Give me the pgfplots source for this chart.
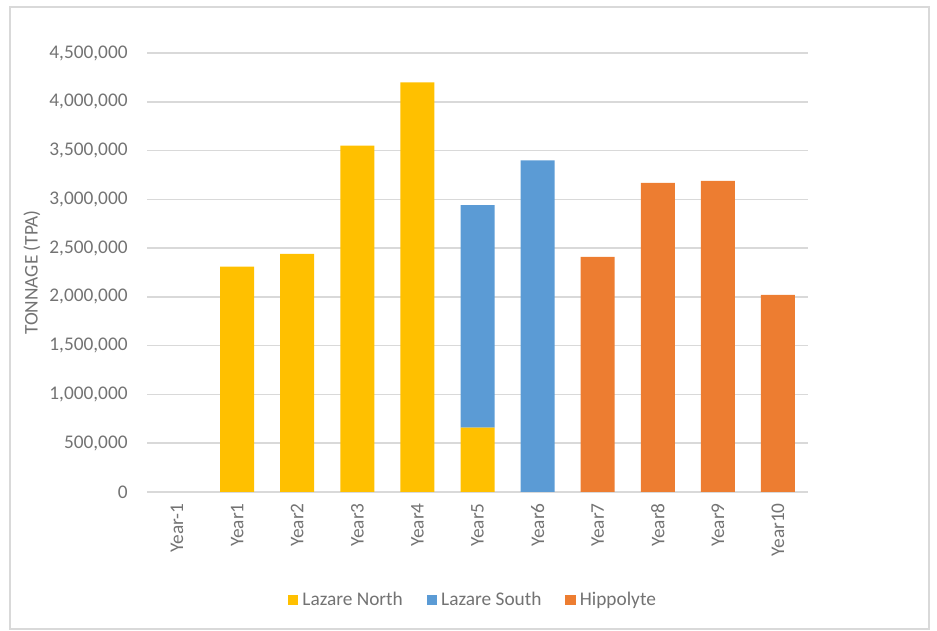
\documentclass[border=0pt]{standalone}
\usepackage{pgfplots}
\pgfplotsset{compat=1.18}
\usepackage{fontspec}
\setmainfont{Carlito}

\definecolor{lnorth}{HTML}{FFC000}
\definecolor{lsouth}{HTML}{5B9BD5}
\definecolor{hippo}{HTML}{ED7D31}
\definecolor{gridgray}{HTML}{D9D9D9}
\definecolor{textgray}{HTML}{737373}

\begin{document}
\begin{tikzpicture}
\useasboundingbox (0,0) rectangle (468.5bp,315.5bp);
% outer chart frame
\draw[gridgray, line width=0.8bp] (5bp,1bp) rectangle (464.5bp,312bp);
\begin{axis}[
  at={(73.5bp,69.5bp)}, anchor=south west,
  scale only axis,
  width=330.5bp, height=219.5bp,
  ybar stacked,
  bar width=17bp,
  xmin=-0.5, xmax=10.5,
  ymin=0, ymax=4500000,
  xtick={0,...,10},
  xticklabels={Year-1,Year1,Year2,Year3,Year4,Year5,Year6,Year7,Year8,Year9,Year10},
  ytick={0,500000,...,4500000},
  scaled y ticks=false,
  ymajorgrids,
  grid style={gridgray, line width=0.8bp},
  axis line style={draw=none},
  major tick length=0pt,
  tick label style={font=\fontsize{9.7}{11}\selectfont, text=textgray, inner sep=0pt},
  /pgf/number format/assume math mode=true,
  yticklabel style={/pgf/number format/.cd, fixed, 1000 sep={,}},
  yticklabel shift=9.5bp,
  xticklabel style={rotate=90, anchor=east},
  xticklabel shift=5.5bp,
  ylabel={TONNAGE (TPA)},
  ylabel style={at={(axis description cs:-0.174,0.5)}, anchor=center,
    font=\fontsize{9.7}{11}\selectfont, text=textgray, inner sep=0pt},
  legend columns=-1,
  legend style={draw=none, at={(axis description cs:0.4947,-0.246)}, anchor=center,
    font=\fontsize{9.7}{11}\selectfont, text=textgray,
    /tikz/every even column/.append style={column sep=10bp}},
  legend image code/.code={\fill[#1] (0bp,-2.6bp) rectangle (5.2bp,2.6bp);},
]
\addplot[fill=lnorth, draw=none] coordinates {
  (0,0) (1,2310000) (2,2440000) (3,3550000) (4,4200000) (5,660000)
  (6,0) (7,0) (8,0) (9,0) (10,0)};
\addplot[fill=lsouth, draw=none] coordinates {
  (0,0) (1,0) (2,0) (3,0) (4,0) (5,2280000)
  (6,3400000) (7,0) (8,0) (9,0) (10,0)};
\addplot[fill=hippo, draw=none] coordinates {
  (0,0) (1,0) (2,0) (3,0) (4,0) (5,0)
  (6,0) (7,2410000) (8,3170000) (9,3190000) (10,2020000)};
\legend{Lazare North, Lazare South, Hippolyte}
\end{axis}
\end{tikzpicture}
\end{document}
